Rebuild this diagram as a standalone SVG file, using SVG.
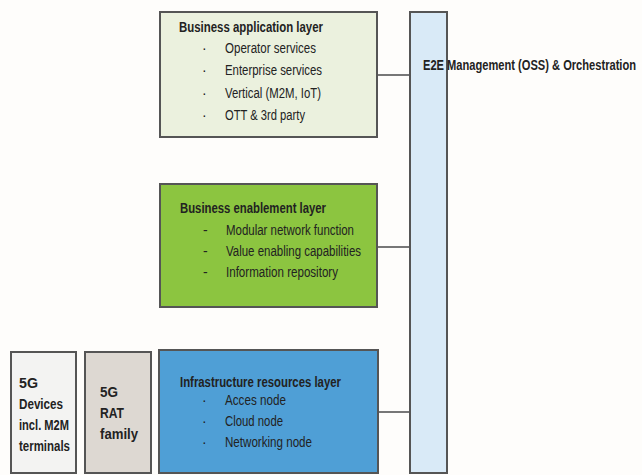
<svg xmlns="http://www.w3.org/2000/svg" width="642" height="475" viewBox="0 0 642 475">
<style>
.box{stroke:#555;stroke-width:2}
.t{font-family:"Liberation Sans",Arial,sans-serif;font-size:14px;fill:#222}
.b{font-weight:bold}
.conn{stroke:#777;stroke-width:2;fill:none}
</style>
<rect width="642" height="475" fill="#fefdfb"/>
<g id="connectors">
<line class="conn" x1="377" y1="75" x2="410" y2="75"/>
<line class="conn" x1="377" y1="247" x2="410" y2="247"/>
<line class="conn" x1="378" y1="412" x2="410" y2="412"/>
</g>
<g id="e2e">
<rect class="box" x="410" y="12" width="37" height="461" fill="#d9eaf7"/>
<text class="t b" x="423" y="70" textLength="213" lengthAdjust="spacingAndGlyphs">E2E Management (OSS) &amp; Orchestration</text>
</g>
<g id="app">
<rect class="box" x="160" y="12" width="217" height="125" fill="#ebf1de"/>
<text class="t b" x="179" y="32" textLength="144" lengthAdjust="spacingAndGlyphs">Business application layer</text>
<text class="t" x="202" y="53">·</text><text class="t" x="225" y="53" textLength="91" lengthAdjust="spacingAndGlyphs">Operator services</text>
<text class="t" x="202" y="75">·</text><text class="t" x="225" y="75" textLength="97" lengthAdjust="spacingAndGlyphs">Enterprise services</text>
<text class="t" x="202" y="98">·</text><text class="t" x="225" y="98" textLength="96" lengthAdjust="spacingAndGlyphs">Vertical (M2M, IoT)</text>
<text class="t" x="202" y="120">·</text><text class="t" x="225" y="120" textLength="80" lengthAdjust="spacingAndGlyphs">OTT &amp; 3rd party</text>
</g>
<g id="enable">
<rect class="box" x="160" y="184" width="217" height="123" fill="#8cc540"/>
<text class="t b" x="180" y="213" textLength="146" lengthAdjust="spacingAndGlyphs">Business enablement layer</text>
<text class="t" x="203" y="235">-</text><text class="t" x="226" y="235" textLength="128" lengthAdjust="spacingAndGlyphs">Modular network function</text>
<text class="t" x="203" y="256">-</text><text class="t" x="226" y="256" textLength="135" lengthAdjust="spacingAndGlyphs">Value enabling capabilities</text>
<text class="t" x="203" y="277">-</text><text class="t" x="226" y="277" textLength="112" lengthAdjust="spacingAndGlyphs">Information repository</text>
</g>
<g id="infra">
<rect class="box" x="159" y="350" width="219" height="123" fill="#4f9fd6"/>
<text class="t b" x="180" y="387" textLength="161" lengthAdjust="spacingAndGlyphs">Infrastructure resources layer</text>
<text class="t" x="202" y="405">·</text><text class="t" x="225" y="405" textLength="61" lengthAdjust="spacingAndGlyphs">Acces node</text>
<text class="t" x="202" y="426">·</text><text class="t" x="225" y="426" textLength="58" lengthAdjust="spacingAndGlyphs">Cloud node</text>
<text class="t" x="202" y="447">·</text><text class="t" x="225" y="447" textLength="87" lengthAdjust="spacingAndGlyphs">Networking node</text>
</g>
<g id="devices">
<rect class="box" x="11" y="352" width="65" height="121" fill="#f3f3f2"/>
<text class="t b" x="19" y="388" textLength="19" lengthAdjust="spacingAndGlyphs">5G</text>
<text class="t b" x="19" y="409" textLength="44" lengthAdjust="spacingAndGlyphs">Devices</text>
<text class="t b" x="19" y="430" textLength="50" lengthAdjust="spacingAndGlyphs">incl. M2M</text>
<text class="t b" x="19" y="451" textLength="51" lengthAdjust="spacingAndGlyphs">terminals</text>
</g>
<g id="rat">
<rect class="box" x="85" y="352" width="66" height="121" fill="#ddd8d2"/>
<text class="t b" x="100" y="397" textLength="18" lengthAdjust="spacingAndGlyphs">5G</text>
<text class="t b" x="100" y="418" textLength="24" lengthAdjust="spacingAndGlyphs">RAT</text>
<text class="t b" x="100" y="439" textLength="38" lengthAdjust="spacingAndGlyphs">family</text>
</g>
</svg>
